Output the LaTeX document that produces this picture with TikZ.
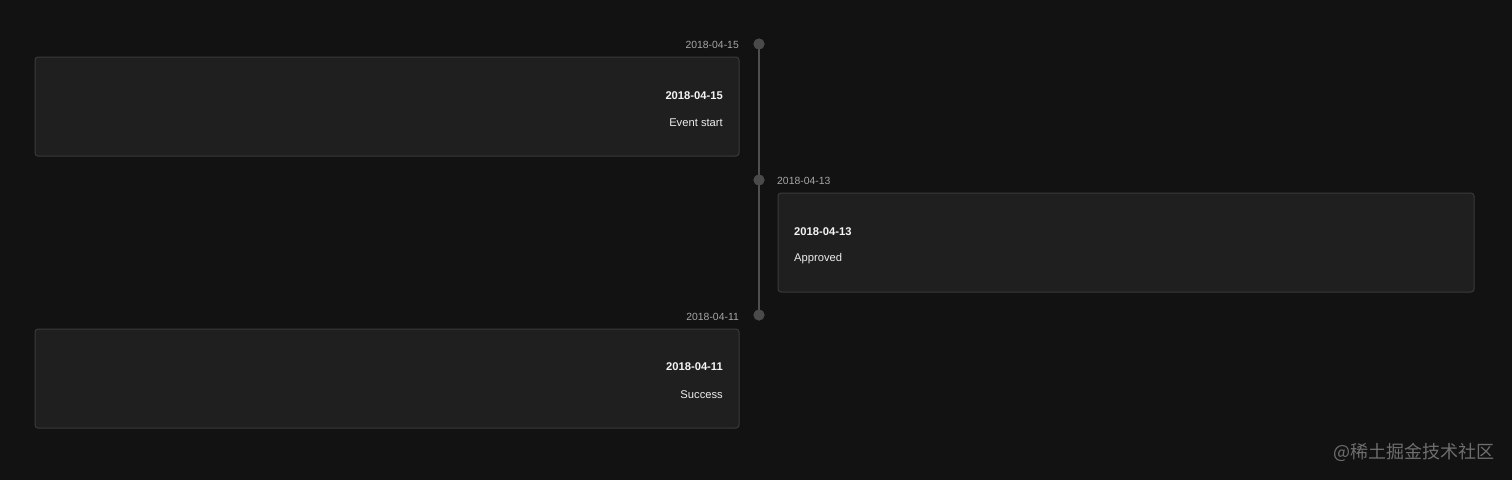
\documentclass[tikz,border=0pt]{standalone}
\usepackage{fontspec}
\setmainfont{Liberation Sans}
\newfontfamily\cjk{Noto Sans CJK SC}
\definecolor{bg}{HTML}{121212}
\definecolor{cardfill}{HTML}{1F1F1F}
\definecolor{cardline}{HTML}{3A3A3A}
\definecolor{axis}{HTML}{4F4F4F}
\definecolor{dotc}{HTML}{4A4A4A}
\definecolor{datec}{HTML}{A6A6A6}
\definecolor{titlec}{HTML}{F5F5F5}
\definecolor{textc}{HTML}{EDEDED}
\definecolor{markc}{HTML}{6E6E6E}
\tikzset{
  card/.style={draw=cardline, fill=cardfill, rounded corners=3pt, line width=1pt},
  dot/.style={circle, fill=dotc, inner sep=0pt, minimum size=11pt},
  datelbl/.style={font=\fontsize{10.4}{12}\selectfont, text=datec, inner sep=0pt},
  titlelbl/.style={font=\fontsize{11.2}{13}\selectfont\bfseries, text=titlec, inner sep=0pt},
  bodylbl/.style={font=\fontsize{11.2}{13}\selectfont, text=textc, inner sep=0pt},
}
\begin{document}
\begin{tikzpicture}[x=1pt,y=-1pt]
\fill[bg] (0,0) rectangle (1512,480);
\useasboundingbox (0,0) rectangle (1512,480);
% cards
\draw[card] (35,57) rectangle (739,156);
\draw[card] (778,193) rectangle (1474,292);
\draw[card] (35,329) rectangle (739,428);
% axis
\node[dot] (d1) at (759,44) {};
\node[dot] (d2) at (759,180) {};
\node[dot] (d3) at (759,315) {};
\draw[axis, line width=2pt] (d1.center) -- (d2.center) -- (d3.center);
\node[dot] at (d1.center) {};
\node[dot] at (d2.center) {};
\node[dot] at (d3.center) {};
% date labels
\node[datelbl, anchor=east] (l1) at (739,44.5) {2018-04-15};
\node[datelbl, anchor=west] (l2) at (777,180.5) {2018-04-13};
\node[datelbl, anchor=east] (l3) at (739,316.5) {2018-04-11};
% card contents
\node[titlelbl, anchor=east] (t1) at (723,95.5) {2018-04-15};
\node[bodylbl, anchor=east] (b1) at (723,122.5) {Event start};
\node[titlelbl, anchor=west] (t2) at (794,231.5) {2018-04-13};
\node[bodylbl, anchor=west] (b2) at (794,258.5) {Approved};
\node[titlelbl, anchor=east] (t3) at (723,366.5) {2018-04-11};
\node[bodylbl, anchor=east] (b3) at (723,394.5) {Success};
% watermark
\node[anchor=east, inner sep=0pt, text=markc, font=\cjk\fontsize{18}{20}\selectfont] (wm) at (1495,452) {@稀土掘金技术社区};
\end{tikzpicture}
\end{document}
